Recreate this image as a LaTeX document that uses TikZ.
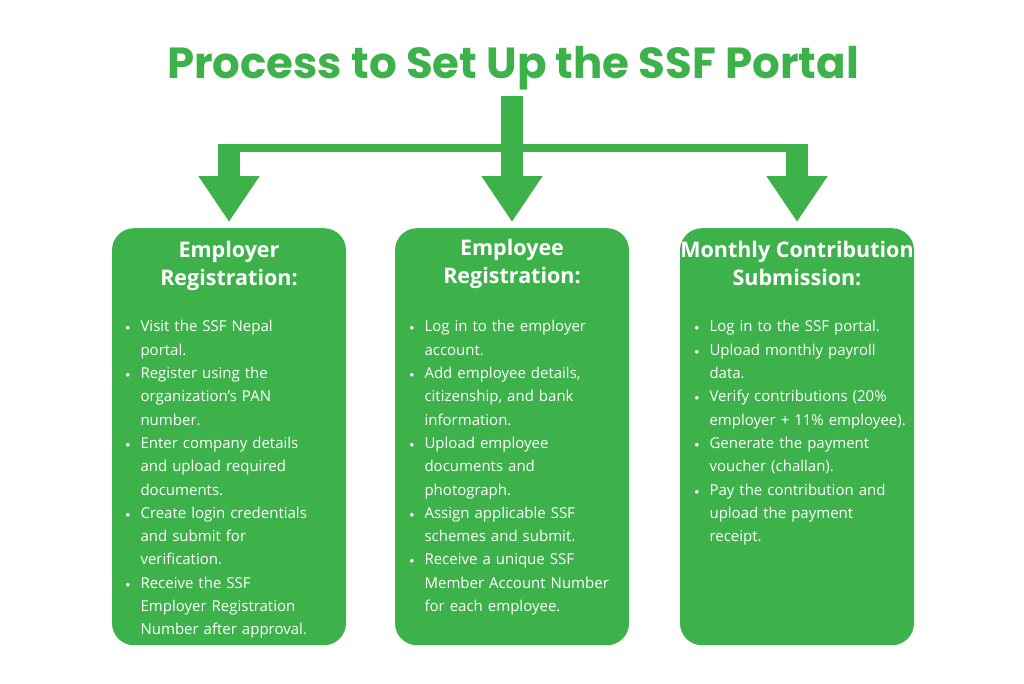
\documentclass[tikz,border=0pt]{standalone}
\usepackage{fontspec}
\setmainfont{Open Sans}
\newfontfamily\headfont{Poppins}
\usetikzlibrary{positioning,arrows.meta}
\definecolor{ssfgreen}{HTML}{3DB24B}
\tikzstyle{card} = [rectangle, rounded corners=22pt, minimum width=234pt, minimum height=417pt, fill=ssfgreen, anchor=north]
\tikzstyle{cardtext} = [text=white, font=\fontsize{15}{23.3}\selectfont, text width=200pt, anchor=north west, align=left]
\tikzstyle{heading} = [text=white, font=\bfseries\fontsize{21.5}{28}\selectfont, align=center, anchor=north]
\tikzstyle{arrow} = [draw=ssfgreen, line width=22pt, -{Triangle[width=58pt,length=46pt]}]
\newcommand{\bul}{\makebox[15pt][l]{\raisebox{1pt}{\fontsize{9}{9}\selectfont$\bullet$}}}
\newcommand{\itm}[1]{\hangindent=15pt\hangafter=1\noindent\bul#1\par}
\newcommand{\brk}{\hfil\break}
\begin{document}
\begin{tikzpicture}[x=1pt, y=-1pt]
        \useasboundingbox (0,0) rectangle (1024,683);
        \node (title) [text=ssfgreen, font=\headfont\bfseries\fontsize{43.5}{46}\selectfont] at (513,68) {Process to Set Up the SSF Portal};
        \node (employer) [card] at (229,228) {};
        \node (employee) [card] at (512,228) {};
        \node (monthly) [card] at (797,228) {};
        \node (h1) [heading] at (229,238) {Employer\\Registration:};
        \node (h2) [heading] at (512,236) {Employee\\Registration:};
        \node (h3) [heading] at (797,238) {Monthly Contribution\\Submission:};
        \node (t1) [cardtext] at (122,317) {\hyphenpenalty=10000\exhyphenpenalty=10000\rightskip=0pt plus 1fil%
            \itm{Visit the SSF Nepal\brk portal.}
            \itm{Register using the\brk organization's PAN\brk number.}
            \itm{Enter company details\brk and upload required\brk documents.}
            \itm{Create login credentials\brk and submit for\brk verification.}
            \itm{Receive the SSF\brk Employer Registration\brk Number after approval.}};
        \node (t2) [cardtext, text width=230pt] at (406,317) {\hyphenpenalty=10000\exhyphenpenalty=10000\rightskip=0pt plus 1fil%
            \itm{Log in to the employer\brk account.}
            \itm{Add employee details,\brk citizenship, and bank\brk information.}
            \itm{Upload employee\brk documents and\brk photograph.}
            \itm{Assign applicable SSF\brk schemes and submit.}
            \itm{Receive a unique SSF\brk Member Account Number\brk for each employee.}};
        \node (t3) [cardtext, text width=240pt] at (691,317) {\hyphenpenalty=10000\exhyphenpenalty=10000\rightskip=0pt plus 1fil%
            \itm{Log in to the SSF portal.}
            \itm{Upload monthly payroll\brk data.}
            \itm{Verify contributions (20\%\brk employer + 11\% employee).}
            \itm{Generate the payment\brk voucher (challan).}
            \itm{Pay the contribution and\brk upload the payment\brk receipt.}};
        % connectors
        \coordinate (stem) at (512,96);
        \coordinate (barL) at (229,148);
        \coordinate (barR) at (797,148);
        \draw [draw=ssfgreen, line width=8pt] ([xshift=-11pt]barL) -- ([xshift=11pt]barR);
        \draw [arrow] (stem) -- ([yshift=6pt]employee.north);
        \draw [arrow] ([yshift=4pt]barL) -- ([yshift=6pt]employer.north);
        \draw [arrow] ([yshift=4pt]barR) -- ([yshift=6pt]monthly.north);
    \end{tikzpicture}
\end{document}
